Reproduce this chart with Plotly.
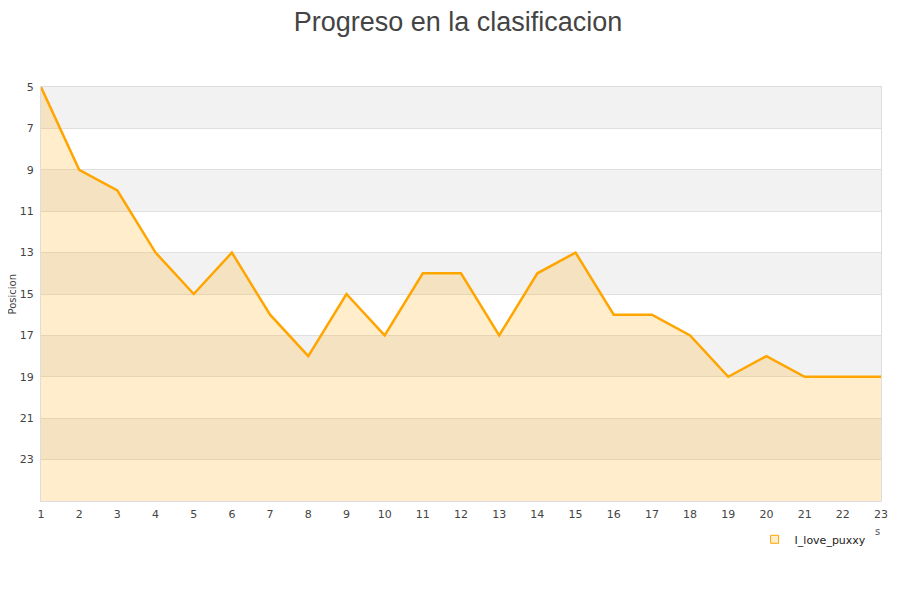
"""Progreso en la clasificacion - posicion por jornada."""
import plotly.graph_objects as go

jornadas = list(range(1, 24))
posiciones = [5, 9, 10, 13, 15, 13, 16, 18, 15, 17, 14, 14, 17, 14, 13,
              16, 16, 17, 19, 18, 19, 19, 19]
equipo = "I_love_puxxy"
ticks_y = [5, 7, 9, 11, 13, 15, 17, 19, 21, 23]

Y_MIN, Y_MAX = 5, 25
NARANJA = "#ffa500"
RELLENO = "rgba(255,165,0,0.2)"

fig = go.Figure()

# base invisible para rellenar hasta el fondo del eje (eje invertido)
fig.add_trace(go.Scatter(
    x=jornadas, y=[Y_MAX for _ in jornadas], mode="lines",
    line=dict(width=0), hoverinfo="skip", showlegend=False,
))
fig.add_trace(go.Scatter(
    x=jornadas, y=posiciones, mode="lines", name=equipo,
    line=dict(color=NARANJA, width=2.5),
    fill="tonexty", fillcolor=RELLENO, showlegend=False,
))
# entrada de leyenda con cuadrado
fig.add_trace(go.Scatter(
    x=[None], y=[None], mode="markers", name=equipo,
    marker=dict(symbol="square", size=8, color=RELLENO,
                line=dict(color=NARANJA, width=1)),
))

# bandas alternas grises
for lo in range(Y_MIN, Y_MAX, 4):
    fig.add_shape(type="rect", xref="paper", yref="y", x0=0, x1=1,
                  y0=lo, y1=lo + 2, fillcolor="#f2f2f2", line_width=0,
                  layer="below")

fig.add_annotation(text="Posicion", xref="paper", yref="paper",
                   x=-0.034, y=0.5, xanchor="center", yanchor="middle",
                   textangle=-90, showarrow=False,
                   font=dict(size=10, color="#444"))
fig.add_annotation(text="s", xref="paper", yref="paper",
                   x=1.001, y=-0.092, showarrow=False,
                   font=dict(size=10, color="#555"))

fig.update_layout(
    width=900, height=600,
    title=dict(text="Progreso en la clasificacion", x=0.5, y=0.977,
               xanchor="center", yanchor="middle",
               font=dict(family="Liberation Sans, Arial", size=27,
                         color="#444")),
    font=dict(family="DejaVu Sans", size=11, color="#444"),
    paper_bgcolor="white", plot_bgcolor="white",
    margin=dict(l=33, r=27, t=79, b=107),
    legend=dict(x=0.8495, y=-0.0925, xanchor="left", yanchor="middle",
                font=dict(size=11, color="#222"), bgcolor="rgba(0,0,0,0)"),
    xaxis=dict(range=[1, 23], tickvals=jornadas, showgrid=False,
               zeroline=False, showline=True, linecolor="#ddd", mirror=True,
               ticks="", ticklabelstandoff=3, automargin=False),
    yaxis=dict(range=[Y_MAX, Y_MIN], tickvals=ticks_y, showgrid=True,
               gridcolor="#e0e0e0", zeroline=False, showline=True,
               linecolor="#ddd", mirror=True, ticks="",
               ticklabelstandoff=4, automargin=False),
)

fig.write_html("out.html")
